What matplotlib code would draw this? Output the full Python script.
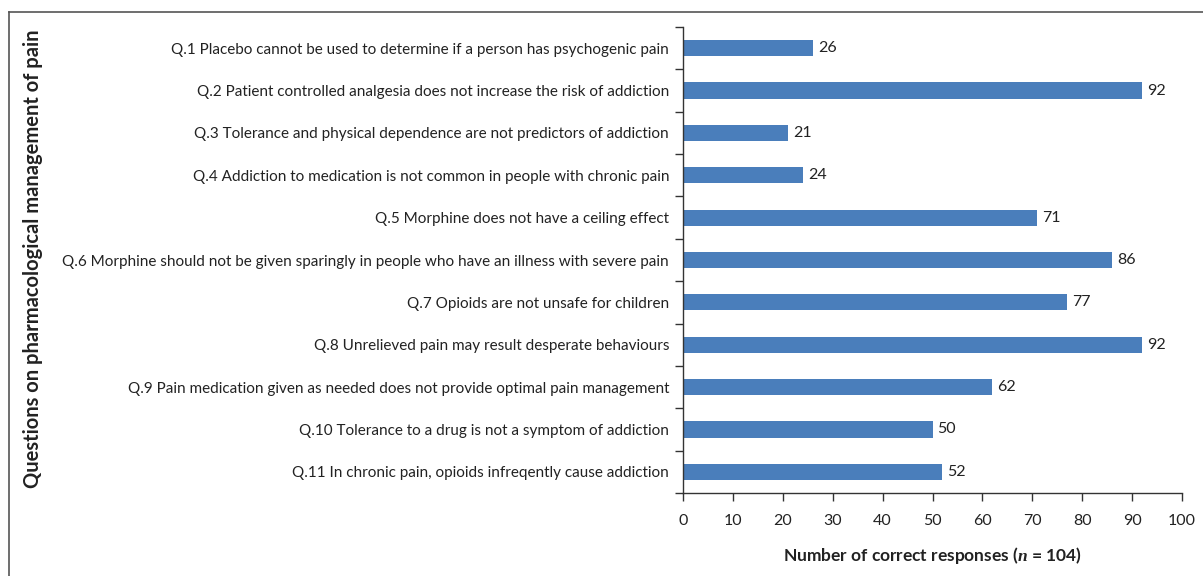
import matplotlib
matplotlib.use("Agg")
import matplotlib.pyplot as plt
from matplotlib.lines import Line2D

questions = [
    "Q.1 Placebo cannot be used to determine if a person has psychogenic pain",
    "Q.2 Patient controlled analgesia does not increase the risk of addiction",
    "Q.3 Tolerance and physical dependence are not predictors of addiction",
    "Q.4 Addiction to medication is not common in people with chronic pain",
    "Q.5 Morphine does not have a ceiling effect",
    "Q.6 Morphine should not be given sparingly in people who have an illness with severe pain",
    "Q.7 Opioids are not unsafe for children",
    "Q.8 Unrelieved pain may result desperate behaviours",
    "Q.9 Pain medication given as needed does not provide optimal pain management",
    "Q.10 Tolerance to a drug is not a symptom of addiction",
    "Q.11 In chronic pain, opioids infreqently cause addiction",
]
correct = [26, 92, 21, 24, 71, 86, 77, 92, 62, 50, 52]
xticks = list(range(0, 101, 10))

plt.rcParams['font.family'] = ['Lato', 'DejaVu Sans']
plt.rcParams['mathtext.fontset'] = 'custom'
plt.rcParams['mathtext.bfit'] = 'Liberation Serif:italic:bold'

fig = plt.figure(figsize=(12.03, 5.76), dpi=100)
ax = fig.add_axes([683/1203, 1-493/576, (1182-683)/1203, (493-27)/576])

ypos = list(range(len(questions)))
ax.barh(ypos, correct, height=0.38, color='#4a7ebb')
for y, v in zip(ypos, correct):
    ax.text(v + 1.0, y, str(v), va='center', ha='left', fontsize=11.5, color='#222222')

ax.set_ylim(len(questions) - 0.5, -0.5)
ax.set_xlim(0, 100)
ax.set_xticks(xticks)
ax.set_xticklabels([str(t) for t in xticks], fontsize=11.5, color='#222222')
ax.set_yticks(ypos)
ax.set_yticklabels(questions, fontsize=11.0, color='#222222')
ax.tick_params(axis='y', which='major', length=0, pad=10)
ax.set_yticks([i - 0.5 for i in range(len(questions) + 1)], minor=True)
ax.tick_params(axis='y', which='minor', length=6, color='#333333', width=1)
ax.tick_params(axis='x', length=6, color='#333333', width=1, pad=9)

for s in ['top', 'right']:
    ax.spines[s].set_visible(False)
for s in ['left', 'bottom']:
    ax.spines[s].set_color('#333333')
    ax.spines[s].set_linewidth(1)

ax.set_xlabel(r"Number of correct responses ($\boldsymbol{n}$ = 104)", fontsize=12.5, fontweight='bold', labelpad=12, color='#222222')
fig.text(33/1203, 1-259/576, "Questions on pharmacological management of pain", rotation=90,
         fontsize=14.5, fontweight='bold', ha='center', va='center', color='#222222')

fig.add_artist(Line2D([9/1203, 1], [1-12/576, 1-12/576], color='#555555', lw=1.2, transform=fig.transFigure))
fig.add_artist(Line2D([9/1203, 9/1203], [0, 1-12/576], color='#555555', lw=1.2, transform=fig.transFigure))

fig.savefig("out.png", dpi=100)
